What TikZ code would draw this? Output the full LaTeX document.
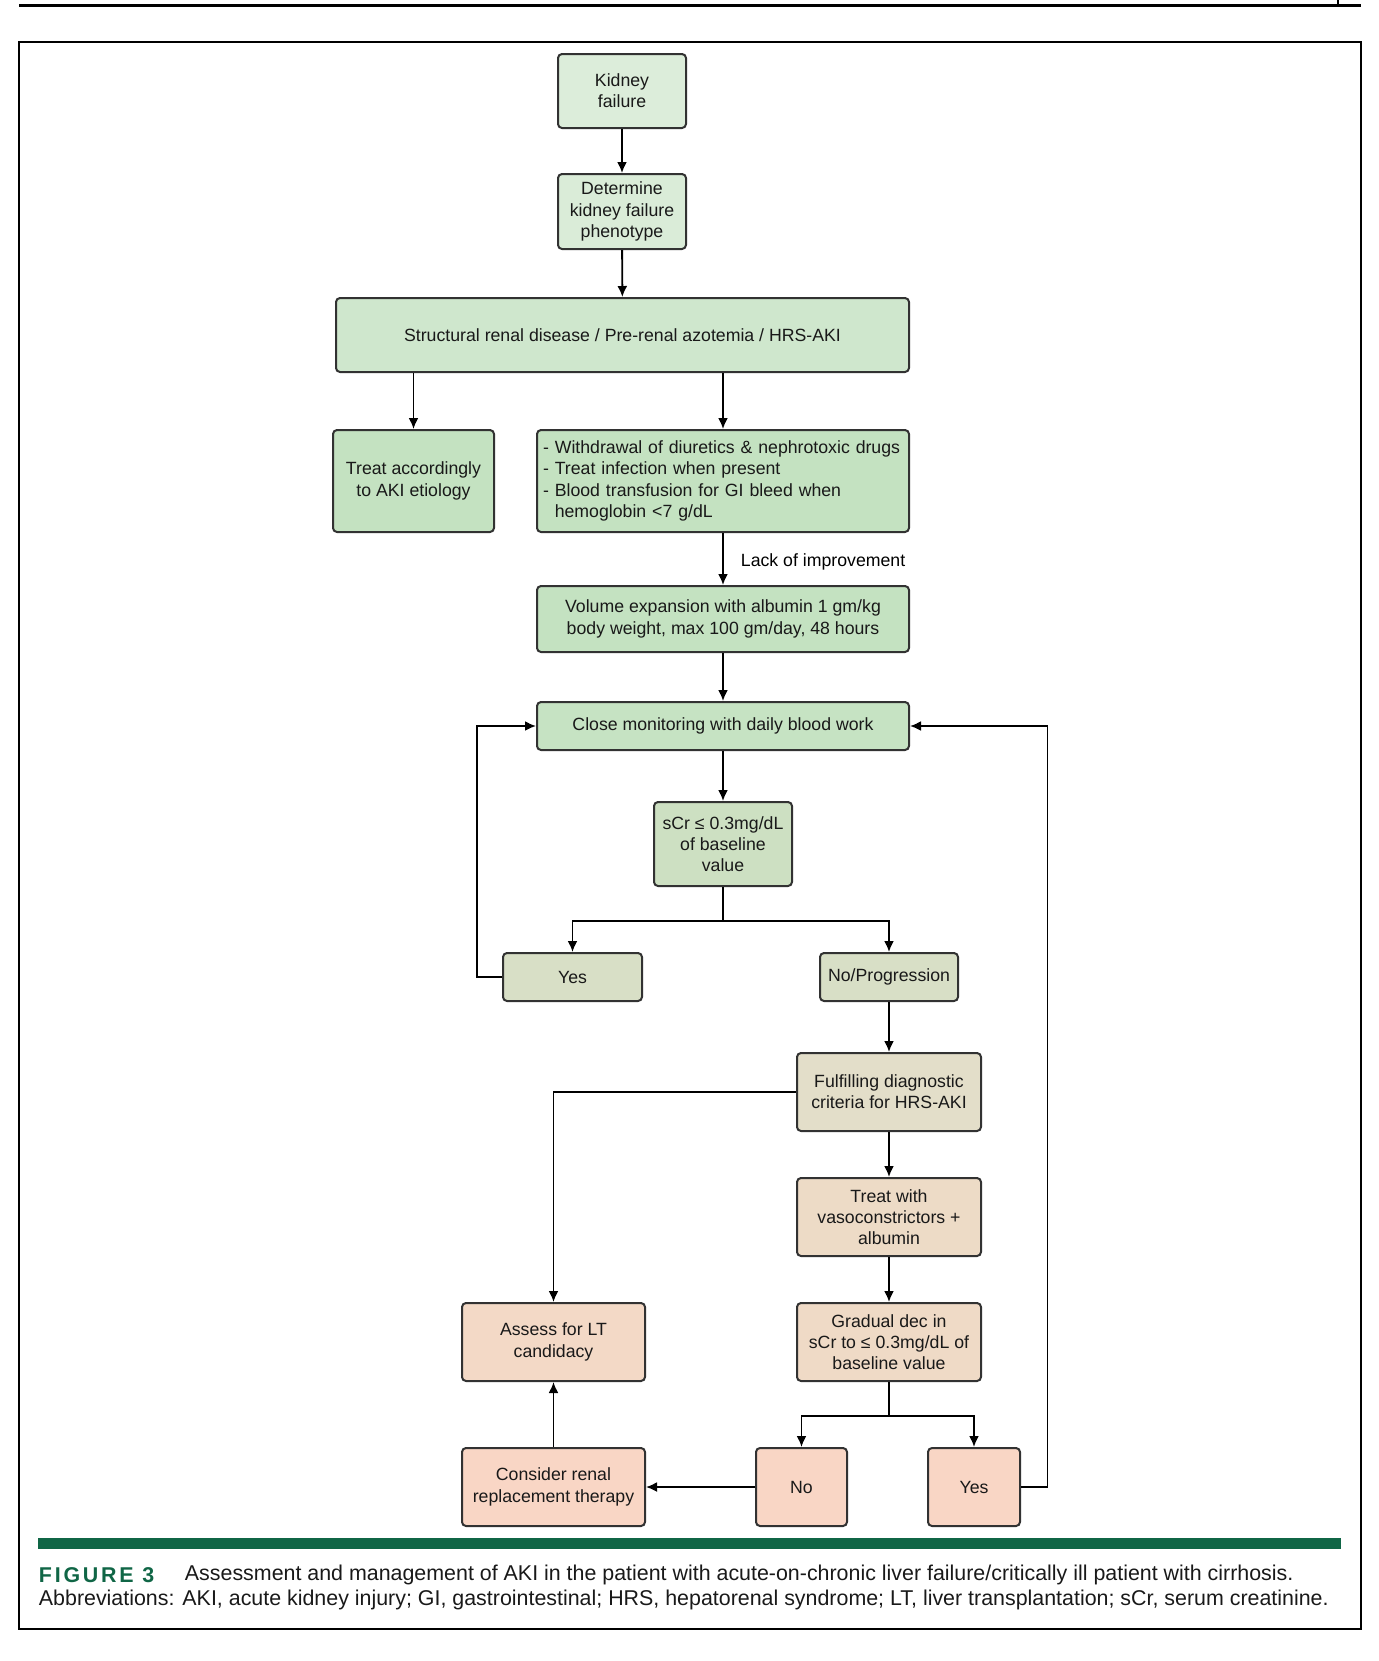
\documentclass[tikz,border=0pt]{standalone}
\usepackage{fontspec}
\setmainfont{Liberation Sans}
\usetikzlibrary{arrows.meta,positioning,calc}
\definecolor{mint}{RGB}{220,237,218}
\definecolor{leaf}{RGB}{207,231,205}
\definecolor{moss}{RGB}{196,226,193}
\definecolor{sage}{RGB}{205,224,194}
\definecolor{olive}{RGB}{216,223,198}
\definecolor{sand}{RGB}{227,222,201}
\definecolor{wheat}{RGB}{237,219,198}
\definecolor{peach}{RGB}{243,217,198}
\definecolor{salmon}{RGB}{249,214,197}
\definecolor{band}{RGB}{16,102,70}
\definecolor{boxline}{RGB}{50,50,50}
\newcommand{\boxfont}{\fontsize{8.85}{10.6}\selectfont}
\newcommand{\capfont}{\fontsize{10.7}{12.4}\selectfont}

\begin{document}
\begin{tikzpicture}[x=0.5pt,y=-0.5pt,>={Latex[length=5.5pt,width=5pt]},
  line width=0.95pt,
  box/.style={draw=boxline,line width=1pt,rounded corners=2pt,align=center,inner sep=2pt,text=black!90,font=\boxfont},
  wide/.style={minimum width=186pt},
  mid/.style={minimum width=92pt,minimum height=39pt}]
\useasboundingbox (0,0) rectangle (1379,1661);
% page rule and frame
\draw[line width=1.5pt] (19,5) -- (1361,5);
\draw[line width=1pt] (1338,0) -- (1338,5);
\draw[line width=1.3pt] (19,42) rectangle (1361,1629);

% green part
\node[box,fill=mint,minimum width=64pt,minimum height=37pt] (kidney) at (622,91) {Kidney\\failure};
\node[box,fill=mint!85!leaf,minimum width=64pt,minimum height=37.5pt] (phenotype) at (622,211.5) {Determine\\kidney failure\\phenotype};
\node[box,fill=leaf,minimum width=286.5pt,minimum height=37pt] (structural) at (622.5,335) {Structural renal disease / Pre-renal azotemia / HRS-AKI};
\node[box,fill=moss,minimum width=80.5pt,minimum height=51pt] (treataki) at (413.5,481) {Treat accordingly\\to AKI etiology};
\node[box,fill=moss,minimum height=51pt,align=left,text width=180pt,inner xsep=3pt] (withdraw) at (723,481) {- Withdrawal of diuretics \& nephrotoxic drugs\\- Treat infection when present\\- Blood transfusion for GI bleed when\\\phantom{-}\ hemoglobin <7 g/dL};
\node[box,wide,fill=moss,minimum height=33pt] (volume) at (723,619) {Volume expansion with albumin 1 gm/kg\\body weight, max 100 gm/day, 48 hours};
\node[box,wide,fill=moss!80!leaf,minimum height=24pt] (monitor) at (723,726) {Close monitoring with daily blood work};
\node[box,fill=sage,minimum width=69pt,minimum height=42pt] (scr) at (723,844) {sCr ≤ 0.3mg/dL\\of baseline\\value};
\node[box,fill=olive,minimum width=69.5pt,minimum height=24pt] (yesa) at (572.5,977) {Yes};
\node[box,fill=olive,minimum width=69pt,minimum height=24pt] (noprog) at (889,977) {No/Progression};

% HRS-AKI part
\node[box,mid,fill=sand] (fulfil) at (889,1092) {Fulfilling diagnostic\\criteria for HRS-AKI};
\node[box,mid,fill=wheat] (vaso) at (889,1217) {Treat with\\vasoconstrictors +\\albumin};
\node[box,mid,fill=wheat!60!peach] (gradual) at (889,1342) {Gradual dec in\\sCr to ≤ 0.3mg/dL of\\baseline value};
\node[box,fill=peach,minimum width=91.5pt,minimum height=39pt] (assess) at (553.5,1342) {Assess for LT\\candidacy};
\node[box,fill=salmon,minimum width=91.5pt,minimum height=39pt] (rrt) at (553.5,1487) {Consider renal\\replacement therapy};
\node[box,fill=salmon,minimum width=45.5pt,minimum height=39pt] (nob) at (801.5,1487) {No};
\node[box,fill=salmon,minimum width=46pt,minimum height=39pt] (yesb) at (974,1487) {Yes};

\coordinate (scrsplit) at (723,921);
\coordinate (gradsplit) at (889,1416);
\coordinate (loopl) at (477,726);
\coordinate (loopr) at (1047.5,726);

\draw[->] (kidney) -- (phenotype);
\draw[->] (phenotype) -- (structural);
\draw[->] (structural.south -| treataki) -- (treataki);
\draw[->] (structural.south -| withdraw) -- (withdraw);
\draw[->] (withdraw) -- node[right,inner sep=0,xshift=8.5pt,yshift=-1.5pt,font=\boxfont] (lackimp) {Lack of improvement} (volume);
\draw[->] (volume) -- (monitor);
\draw[->] (monitor) -- (scr);
\draw[->] (scr) -- (scrsplit) -| (yesa.north);
\draw[->] (scrsplit) -| (noprog.north);
\draw[->] (yesa.west) -| (loopl) -- (monitor.west);
\draw[->] (noprog) -- (fulfil);
\draw[->] (fulfil.west) -| (assess.north);
\draw[->] (fulfil) -- (vaso);
\draw[->] (vaso) -- (gradual);
\draw[->] (gradual) -- (gradsplit) -| (nob.north);
\draw[->] (gradsplit) -| (yesb.north);
\draw[->] (nob) -- (rrt);
\draw[->] (rrt) -- (assess);
\draw[->] (yesb.east) -| (loopr) -- (monitor.east);

% caption
\fill[band] (38,1538) rectangle (1341,1549);
\node[anchor=west,inner sep=0,font=\capfont\bfseries,text=band] (figtag) at (38,1575) {\addfontfeature{LetterSpace=13}FIGURE 3};
\node[anchor=west,inner sep=0,font=\capfont,text=black!90] (captext) at (184,1575) {Assessment and management of AKI in the patient with acute-on-chronic liver failure/critically ill patient with cirrhosis.};
\node[anchor=west,inner sep=0,font=\capfont,text=black!90] (abbrev) at (38,1600) {Abbreviations: AKI, acute kidney injury; GI, gastrointestinal; HRS, hepatorenal syndrome; LT, liver transplantation; sCr, serum creatinine.};
\end{tikzpicture}
\end{document}
